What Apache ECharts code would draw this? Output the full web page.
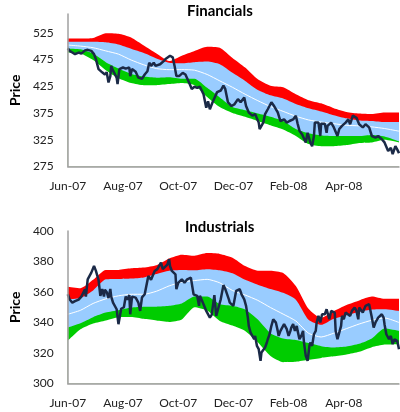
<!DOCTYPE html>
<html>
<head>
<meta charset="utf-8">
<script src="https://cdn.jsdelivr.net/npm/echarts@6/dist/echarts.min.js"></script>
<style>
  html, body { margin: 0; padding: 0; background: #fff; }
  #chart { width: 400px; height: 412px; }
</style>
</head>
<body>
<div id="chart"></div>
<script>
// x values are calendar days counted from 1 Jun 2007
var monthLabels = ['Jun-07', 'Aug-07', 'Oct-07', 'Dec-07', 'Feb-08', 'Apr-08'];
var bandDays = [0, 14, 28, 42, 56, 70, 84, 98, 112, 126, 140, 154, 168, 182, 196, 210, 224, 238, 252, 266, 280, 294, 308, 322, 336, 350, 366];

// Financials bands
var finRedTop = [514, 514, 515, 524, 523, 516, 501, 486, 472, 482, 491, 499, 497, 478, 460, 438, 426, 423, 410, 399, 393, 384, 377, 374, 373, 376, 376];
var finBlueTop = [508, 508, 508, 507, 503, 495, 487, 477, 469, 468, 470, 471, 466, 450, 435, 418, 408, 402, 392, 384, 378, 371, 365, 361, 360, 358, 358];
var finMid = [502, 500, 497, 491, 485, 474, 465, 458, 456, 456, 455, 447, 435, 423, 410, 398, 387, 378, 369, 362, 358, 355, 352, 351, 349, 346, 341];
var finBlueBot = [495, 494, 486, 470, 458, 448, 443, 441, 442, 439, 439, 422, 404, 386, 380, 374, 368, 360, 345, 337, 333, 332, 332, 332, 334, 331, 322];
var finGreenBot = [488, 486, 474, 455, 440, 431, 427, 427, 429, 431, 427, 405, 386, 375, 368, 360, 352, 344, 332, 317, 313, 313, 315, 319, 320, 325, 320];

// Financials price
var finDays = [0, 2, 5, 8, 12, 15, 19, 22, 26, 29, 31, 34, 36, 38, 40, 41, 43, 45, 47, 48, 50, 52, 54, 55, 57, 61, 64, 68, 69, 71, 75, 78, 82, 85, 88, 90, 92, 95, 97, 99, 102, 106, 108, 109, 113, 116, 118, 120, 123, 127, 130, 134, 137, 140, 143, 146, 150, 153, 155, 157, 160, 165, 169, 172, 174, 177, 181, 184, 188, 191, 195, 197, 200, 204, 207, 211, 212, 216, 218, 221, 225, 228, 232, 235, 239, 242, 245, 249, 252, 254, 256, 259, 263, 265, 268, 270, 272, 273, 277, 279, 280, 284, 286, 287, 291, 294, 298, 300, 303, 307, 310, 312, 315, 319, 322, 326, 329, 333, 336, 340, 343, 347, 350, 354, 357, 359, 362, 364, 366];
var finPrice = [496, 491, 488, 485, 488, 486, 492, 493, 491, 485, 476, 457, 454, 451, 454, 447, 451, 432, 444, 463, 454, 448, 441, 429, 457, 460, 458, 460, 444, 457, 452, 441, 439, 447, 453, 469, 463, 469, 463, 460, 466, 472, 476, 479, 482, 479, 463, 444, 444, 450, 447, 432, 420, 424, 422, 424, 410, 385, 397, 382, 395, 414, 417, 426, 420, 395, 388, 391, 401, 395, 404, 388, 376, 370, 373, 357, 345, 357, 373, 382, 395, 388, 376, 360, 363, 357, 360, 363, 370, 355, 342, 335, 320, 338, 320, 313, 332, 357, 357, 332, 355, 355, 338, 351, 357, 348, 332, 345, 351, 357, 363, 354, 370, 366, 354, 348, 354, 348, 332, 329, 332, 326, 320, 304, 310, 298, 313, 307, 300];

// Industrials bands
var indRedTop = [363.5, 362.5, 368, 374.5, 374.5, 375.5, 376, 377.5, 382, 384.5, 383.8, 385.5, 385, 382.5, 377, 374, 374, 372.5, 364, 349, 343, 347.5, 351.5, 354.5, 357, 355.5, 355.5];
var indBlueTop = [355.2, 356, 361, 368.3, 368.5, 368.8, 369.5, 371.8, 374, 374.5, 374.3, 375, 374.3, 372.3, 368, 364.8, 362, 359.5, 355, 341.8, 338.5, 342.5, 344.8, 347, 348.5, 348.7, 347.6];
var indMid = [345.4, 348, 352.5, 355.5, 357.5, 358.5, 358.5, 360.5, 364, 366.5, 367.5, 368.3, 366, 361, 358, 354.5, 349.8, 345.5, 341, 333, 330.5, 333, 336, 339, 341.5, 343, 340];
var indBlueBot = [336.7, 339.5, 343.5, 346.5, 348, 349.8, 350.3, 350.4, 351, 352.5, 357, 357, 352, 351, 348.5, 342, 333, 329.5, 328.5, 326.5, 324.5, 323.6, 324.2, 326, 329.5, 336, 334.5];
var indGreenBot = [328, 335.5, 339.3, 341.3, 343.5, 343.6, 342.4, 341.3, 340.4, 342, 350, 347.8, 341, 338, 334.5, 327, 318, 314, 314.2, 315.5, 316.8, 317.8, 319, 320.8, 323.8, 325.5, 325.8];

// Industrials price
var indDays = [0, 2, 5, 8, 12, 15, 19, 20, 22, 26, 29, 31, 33, 34, 36, 38, 40, 41, 43, 45, 47, 48, 50, 54, 56, 59, 62, 64, 66, 68, 69, 71, 75, 78, 80, 82, 85, 87, 89, 92, 96, 99, 103, 105, 106, 110, 112, 113, 115, 119, 120, 122, 126, 129, 132, 136, 139, 143, 145, 146, 150, 153, 157, 159, 162, 164, 166, 169, 172, 174, 178, 179, 183, 186, 190, 192, 195, 197, 199, 200, 202, 204, 206, 207, 209, 211, 213, 214, 218, 220, 221, 223, 225, 227, 228, 230, 232, 233, 235, 239, 240, 242, 244, 246, 247, 249, 251, 253, 254, 256, 258, 260, 261, 263, 265, 267, 268, 270, 272, 274, 275, 277, 279, 281, 284, 286, 287, 289, 291, 293, 295, 296, 298, 300, 302, 303, 305, 307, 308, 312, 314, 315, 317, 319, 321, 322, 324, 326, 329, 333, 335, 336, 338, 340, 343, 347, 349, 350, 352, 354, 355, 357, 359, 361, 364, 366];
var indPrice = [358.5, 355.2, 353, 354, 355, 357, 361.8, 357, 368.3, 372.7, 377, 374, 375, 368, 357.4, 362, 357, 361.5, 360, 356, 362, 357, 353, 348.7, 338.9, 349, 350, 357, 355, 358, 345.4, 357, 356.3, 353, 347.6, 356.5, 358.5, 359.6, 370.5, 368, 373.8, 375, 379.3, 375, 376, 378, 381.5, 377, 373.8, 371.6, 361.8, 366, 368.3, 366, 368.3, 369.4, 358.5, 357.5, 350.9, 357.5, 352, 347.6, 343.2, 345, 358, 344.3, 348.7, 355.2, 364.5, 362, 355.2, 353, 350.9, 360.7, 361.8, 358.5, 355.2, 350.9, 343.2, 337.8, 333.4, 334.5, 329, 331.2, 324.7, 322.5, 314.8, 320.3, 323.6, 326.9, 329, 332.3, 337.8, 342.1, 343.2, 339.9, 334.5, 331.2, 334.5, 338.9, 337.8, 335.6, 331.2, 334.5, 336.7, 338.9, 334.5, 337.8, 334.5, 329, 331.2, 334.5, 326.9, 318.1, 314.8, 324.7, 326.9, 324.7, 332.3, 334.5, 340, 344.3, 340, 345.4, 345.4, 348.7, 347.6, 342.1, 347.6, 348.7, 346.5, 334.5, 329, 329, 337.8, 344.3, 342.1, 346.5, 347.6, 344.3, 347.6, 346.5, 349.8, 347.6, 342.1, 349.8, 348.7, 346.5, 350.9, 352, 350.9, 343.2, 336.7, 340, 343.2, 345.4, 343.2, 338.9, 332.3, 333.4, 329, 331.2, 325.8, 329, 328, 322.5];

var font = 'Lato, "Open Sans", sans-serif';

function pairs(days, vals) {
    return days.map(function (d, i) { return [d, vals[i]]; });
}

// bands are painted from the top edge down to the axis, each covering the one before
function bandSeries(idx, redTop, blueTop, mid, blueBot, greenBot, days, price) {
    function fill(vals, color) {
        return {
            type: 'line', xAxisIndex: idx, yAxisIndex: idx, symbol: 'none', smooth: 0.2,
            data: pairs(bandDays, vals),
            lineStyle: { width: 0, opacity: 0 },
            areaStyle: { color: color, opacity: 1, origin: 'start' }
        };
    }
    return [
        fill(redTop, '#ff0000'),
        fill(blueTop, '#99ccff'),
        fill(blueBot, '#00cc00'),
        fill(greenBot, '#ffffff'),
        {
            type: 'line', xAxisIndex: idx, yAxisIndex: idx, symbol: 'none', smooth: 0.2,
            data: pairs(bandDays, mid),
            lineStyle: { color: '#ffffff', width: 1 }
        },
        {
            type: 'line', xAxisIndex: idx, yAxisIndex: idx, symbol: 'none',
            data: pairs(days, price),
            lineStyle: { color: '#1b2a47', width: 2.5 }
        }
    ];
}

function xAxis(idx) {
    return {
        type: 'value',
        gridIndex: idx,
        min: 0,
        max: 366,
        interval: 61,
        z: 5,
        axisLine: { lineStyle: { color: '#a0a0a0', width: 1.5 } },
        axisTick: { show: false },
        splitLine: { show: false },
        axisLabel: {
            margin: 14,
            color: '#222',
            fontFamily: font,
            fontSize: 12,
            showMaxLabel: false,
            formatter: function (v) { return monthLabels[Math.round(v / 61)] || ''; }
        }
    };
}

function yAxis(idx, min, max, interval) {
    return {
        type: 'value',
        gridIndex: idx,
        min: min,
        max: max,
        interval: interval,
        z: 5,
        name: 'Price',
        nameLocation: 'middle',
        nameGap: 40,
        nameTextStyle: { fontFamily: font, fontWeight: 'bold', fontSize: 14, color: '#000' },
        axisLine: { show: true, lineStyle: { color: '#a0a0a0', width: 1.5 } },
        axisTick: { show: false },
        splitLine: { show: false },
        axisLabel: {
            margin: 14,
            color: '#222',
            fontFamily: font,
            fontSize: 12,
            showMaxLabel: interval === 50 ? false : true
        }
    };
}

var chart = echarts.init(document.getElementById('chart'));
chart.setOption({
    animation: false,
    title: [
        { text: 'Financials', left: 182, top: -1, textStyle: { fontFamily: font, fontWeight: 'bold', fontSize: 15, color: '#000' } },
        { text: 'Industrials', left: 180, top: 215, textStyle: { fontFamily: font, fontWeight: 'bold', fontSize: 15, color: '#000' } }
    ],
    grid: [
        { left: 48.5, right: 1, top: 14, bottom: 245.5 },
        { left: 48.5, right: 1, top: 231, bottom: 28.5 }
    ],
    xAxis: [xAxis(0), xAxis(1)],
    yAxis: [yAxis(0, 275, 560, 50), yAxis(1, 300, 400, 20)],
    series: bandSeries(0, finRedTop, finBlueTop, finMid, finBlueBot, finGreenBot, finDays, finPrice)
        .concat(bandSeries(1, indRedTop, indBlueTop, indMid, indBlueBot, indGreenBot, indDays, indPrice))
});
</script>
</body>
</html>
